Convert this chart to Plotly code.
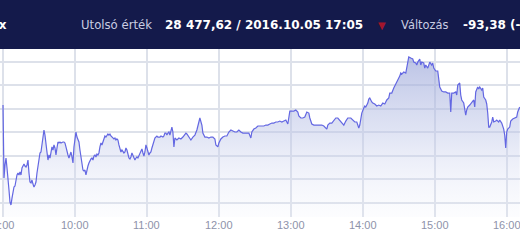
import plotly.graph_objects as go

DAY = "2016-10-05"

times = [
    "09:00:00", "09:00:50", "09:01:40", "09:02:30", "09:03:20", "09:04:10",
    "09:05:00", "09:05:50", "09:06:40", "09:07:30", "09:08:20", "09:09:10",
    "09:10:00", "09:10:50", "09:11:40", "09:12:30", "09:13:20", "09:14:10",
    "09:15:00", "09:15:50", "09:16:40", "09:17:30", "09:18:20", "09:19:10",
    "09:20:00", "09:20:50", "09:21:40", "09:22:30", "09:23:20", "09:24:10",
    "09:25:00", "09:25:50", "09:26:40", "09:27:30", "09:28:20", "09:29:10",
    "09:30:00", "09:30:50", "09:31:40", "09:32:30", "09:33:20", "09:34:10",
    "09:35:00", "09:35:50", "09:36:40", "09:37:30", "09:38:20", "09:39:10",
    "09:40:00", "09:40:50", "09:41:40", "09:42:30", "09:43:20", "09:44:10",
    "09:45:00", "09:45:50", "09:46:40", "09:47:30", "09:48:20", "09:49:10",
    "09:50:00", "09:50:50", "09:51:40", "09:52:30", "09:53:20", "09:54:10",
    "09:55:00", "09:55:50", "09:56:40", "09:57:30", "09:58:20", "09:59:10",
    "10:00:00", "10:00:50", "10:01:40", "10:02:30", "10:03:20", "10:04:10",
    "10:05:00", "10:05:50", "10:06:40", "10:07:30", "10:08:20", "10:09:10",
    "10:10:00", "10:10:50", "10:11:40", "10:12:30", "10:13:20", "10:14:10",
    "10:15:00", "10:15:50", "10:16:40", "10:17:30", "10:18:20", "10:19:10",
    "10:20:00", "10:20:50", "10:21:40", "10:22:30", "10:23:20", "10:24:10",
    "10:25:00", "10:25:50", "10:26:40", "10:27:30", "10:28:20", "10:29:10",
    "10:30:00", "10:30:50", "10:31:40", "10:32:30", "10:33:20", "10:34:10",
    "10:35:00", "10:35:50", "10:36:40", "10:37:30", "10:38:20", "10:39:10",
    "10:40:00", "10:40:50", "10:41:40", "10:42:30", "10:43:20", "10:44:10",
    "10:45:00", "10:45:50", "10:46:40", "10:47:30", "10:48:20", "10:49:10",
    "10:50:00", "10:50:50", "10:51:40", "10:52:30", "10:53:20", "10:54:10",
    "10:55:00", "10:55:50", "10:56:40", "10:57:30", "10:58:20", "10:59:10",
    "11:00:00", "11:00:50", "11:01:40", "11:02:30", "11:03:20", "11:04:10",
    "11:05:00", "11:05:50", "11:06:40", "11:07:30", "11:08:20", "11:09:10",
    "11:10:00", "11:10:50", "11:11:40", "11:12:30", "11:13:20", "11:14:10",
    "11:15:00", "11:15:50", "11:16:40", "11:17:30", "11:18:20", "11:19:10",
    "11:20:00", "11:20:50", "11:21:40", "11:22:30", "11:23:20",
    "11:25:00", "11:26:40", "11:28:20", "11:30:00", "11:31:40", "11:32:30",
    "11:33:20", "11:35:00", "11:36:40", "11:38:20", "11:40:00", "11:41:40",
    "11:43:20", "11:44:10", "11:45:50", "11:46:40", "11:48:20", "11:50:00",
    "11:51:40", "11:53:20", "11:55:00", "11:56:40", "11:57:30", "11:59:10",
    "12:00:00", "12:01:40", "12:03:20", "12:05:00", "12:06:40", "12:08:20",
    "12:10:00", "12:11:40", "12:13:20", "12:15:00", "12:16:40", "12:18:20",
    "12:20:00", "12:21:40", "12:23:20", "12:25:00", "12:26:40", "12:27:30",
    "12:29:10", "12:30:50", "12:32:30", "12:34:10", "12:35:50", "12:37:30",
    "12:39:10", "12:40:50", "12:42:30", "12:44:10", "12:45:50", "12:47:30",
    "12:49:10", "12:50:50", "12:52:30", "12:54:10", "12:55:50", "12:57:30",
    "12:58:20", "12:59:10", "13:00:50", "13:02:30", "13:04:10", "13:05:50",
    "13:06:40", "13:08:20", "13:10:00", "13:11:40", "13:13:20", "13:15:00",
    "13:15:50", "13:17:30", "13:19:10", "13:20:50", "13:22:30", "13:24:10",
    "13:25:50", "13:27:30", "13:29:10", "13:30:00", "13:30:50", "13:32:30",
    "13:34:10", "13:35:50", "13:37:30", "13:39:10", "13:40:50", "13:42:30",
    "13:44:10", "13:45:50", "13:47:30", "13:50:00", "13:51:40", "13:53:20",
    "13:55:00", "13:55:50", "13:56:40", "13:57:30", "13:59:10", "14:00:50",
    "14:01:40", "14:02:30", "14:04:10", "14:05:00", "14:05:50", "14:07:30",
    "14:08:20", "14:10:00", "14:11:40", "14:13:20", "14:15:00", "14:16:40",
    "14:18:20", "14:20:00", "14:21:40", "14:22:30", "14:24:10", "14:25:50",
    "14:27:30", "14:28:20", "14:29:10", "14:30:50", "14:31:40", "14:32:30",
    "14:34:10", "14:35:50", "14:36:40", "14:37:30", "14:38:20", "14:40:00",
    "14:41:40", "14:42:30", "14:44:10", "14:45:00", "14:45:50", "14:47:30",
    "14:48:20", "14:49:10", "14:50:50", "14:51:40", "14:52:30", "14:54:10",
    "14:55:00", "14:55:50", "14:57:30", "14:58:20", "14:59:10", "15:00:50",
    "15:02:30", "15:03:20", "15:04:10", "15:05:50", "15:07:30", "15:09:10",
    "15:10:50", "15:12:30", "15:13:20", "15:14:10", "15:15:50", "15:17:30",
    "15:18:20", "15:19:10", "15:20:50", "15:21:40", "15:22:30", "15:24:10",
    "15:25:00", "15:25:50", "15:26:40", "15:27:30", "15:29:10", "15:30:50",
    "15:32:30", "15:33:20", "15:34:10", "15:35:50", "15:36:40", "15:37:30",
    "15:39:10", "15:40:00", "15:40:50", "15:42:30", "15:43:20", "15:44:10",
    "15:45:00", "15:45:50", "15:47:30", "15:48:20", "15:49:10", "15:50:50",
    "15:51:40", "15:53:20", "15:54:10", "15:55:50", "15:56:40", "15:57:30",
    "15:58:20", "15:59:10", "16:00:00", "16:00:50", "16:02:30", "16:03:20",
    "16:05:00", "16:06:40", "16:08:20", "16:09:10", "16:10:50",
]

values = [
    28483.2, 28421.2, 28432.3, 28438.2, 28429.7, 28422.1,
    28411.0, 28400.8, 28398.3, 28404.2, 28411.0, 28413.6,
    28414.4, 28419.5, 28423.8, 28425.5, 28423.8, 28426.3,
    28423.8, 28429.7, 28431.4, 28433.1, 28431.4, 28430.6,
    28432.3, 28436.5, 28425.5, 28417.8, 28417.0, 28419.5,
    28416.1, 28413.6, 28415.3, 28417.8, 28425.5, 28432.3,
    28440.8, 28442.5, 28443.3, 28449.3, 28459.4, 28462.0,
    28457.7, 28447.6, 28443.3, 28436.5, 28440.8, 28438.2,
    28445.0, 28447.6, 28445.0, 28449.3, 28446.7, 28440.8,
    28446.7, 28451.8, 28451.0, 28451.8, 28451.0, 28451.8,
    28451.8, 28451.8, 28451.0, 28447.6, 28443.3, 28440.8,
    28438.2, 28440.8, 28443.3, 28439.1, 28434.0, 28447.6,
    28457.7, 28460.3, 28456.0, 28454.4, 28451.8, 28445.0,
    28438.2, 28430.6, 28428.0, 28427.2, 28428.0, 28423.8,
    28429.7, 28431.4, 28434.0, 28436.5, 28437.4, 28438.2,
    28436.5, 28439.9, 28440.8, 28439.1, 28441.6, 28440.8,
    28442.5, 28447.6, 28451.0, 28449.3, 28451.8, 28455.2,
    28456.9, 28456.0, 28457.7, 28458.6, 28457.7, 28458.6,
    28456.9, 28456.0, 28455.2, 28454.4, 28455.2, 28453.5,
    28454.4, 28453.5, 28449.3, 28445.0, 28443.3, 28445.0,
    28443.3, 28442.5, 28443.3, 28446.7, 28445.0, 28440.8,
    28438.2, 28437.4, 28439.1, 28442.5, 28439.9, 28437.4,
    28436.5, 28438.2, 28439.1, 28438.2, 28439.9, 28442.5,
    28443.3, 28445.9, 28442.5, 28439.9, 28443.3, 28449.3,
    28446.7, 28443.3, 28440.8, 28442.5, 28443.3, 28446.7,
    28449.3, 28453.5, 28455.2, 28456.0, 28456.9, 28456.0,
    28456.0, 28456.0, 28456.9, 28456.0, 28456.0, 28456.9,
    28459.4, 28459.4, 28457.7, 28459.4, 28460.3, 28457.7,
    28462.0, 28464.5, 28460.3, 28447.6, 28455.2,
    28453.5, 28455.2, 28454.4, 28456.0, 28457.7, 28459.4,
    28458.6, 28456.0, 28453.5, 28456.0, 28457.7, 28462.0,
    28468.8, 28472.2, 28466.2, 28459.4, 28456.0, 28456.0,
    28455.2, 28456.0, 28456.0, 28454.4, 28449.3, 28447.6,
    28451.0, 28454.4, 28456.0, 28456.9, 28456.9, 28460.3,
    28462.0, 28461.1, 28460.3, 28460.3, 28462.0, 28460.3,
    28459.4, 28459.4, 28459.4, 28459.4, 28455.2, 28460.3,
    28462.8, 28463.7, 28465.4, 28465.4, 28465.4, 28465.4,
    28466.2, 28466.2, 28467.1, 28467.9, 28467.9, 28468.8,
    28468.8, 28469.6, 28468.8, 28469.6, 28470.5, 28467.1,
    28474.7, 28478.1, 28478.1, 28478.1, 28479.0, 28477.3,
    28473.9, 28472.2, 28472.2, 28473.0, 28477.3, 28476.4,
    28472.2, 28467.1, 28466.2, 28466.2, 28466.2, 28466.2,
    28466.2, 28465.4, 28463.7, 28462.8, 28466.2, 28467.9,
    28467.9, 28469.6, 28472.2, 28472.2, 28470.5, 28467.9,
    28466.2, 28469.6, 28472.2, 28472.2, 28470.5, 28468.8,
    28468.8, 28466.2, 28463.7, 28466.2, 28476.4, 28480.7,
    28482.4, 28481.5, 28484.9, 28488.3, 28489.2, 28485.8,
    28484.9, 28484.1, 28482.4, 28483.2, 28482.4, 28484.9,
    28484.1, 28487.5, 28489.2, 28493.4, 28493.4, 28497.7,
    28501.9, 28502.8, 28504.5, 28507.8, 28510.4, 28509.5,
    28511.2, 28510.4, 28514.6, 28521.4, 28524.0, 28523.1,
    28522.3, 28519.7, 28518.9, 28517.2, 28519.7, 28522.3,
    28517.2, 28519.7, 28518.9, 28514.6, 28517.2, 28514.6,
    28517.2, 28519.7, 28517.2, 28518.9, 28514.6, 28512.1,
    28512.1, 28507.0, 28498.5, 28495.1, 28494.3, 28494.3,
    28493.4, 28493.4, 28477.3, 28493.4, 28493.4, 28494.3,
    28491.7, 28500.2, 28501.9, 28491.7, 28487.5, 28484.9,
    28480.7, 28474.7, 28479.0, 28481.5, 28483.2, 28485.8,
    28487.5, 28481.5, 28494.3, 28498.5, 28496.8, 28498.5,
    28496.0, 28497.7, 28490.0, 28487.5, 28484.1, 28476.4,
    28464.5, 28464.5, 28468.8, 28473.0, 28468.8, 28469.6,
    28470.5, 28468.8, 28470.5, 28467.9, 28465.4, 28462.8,
    28457.7, 28446.7, 28460.3, 28462.8, 28464.5, 28469.6,
    28471.3, 28472.2, 28473.0, 28477.3, 28481.5,
]

hour_ticks = ["9:00", "10:00", "11:00", "12:00", "13:00", "14:00", "15:00", "16:00"]
hour_pos = ["09:00", "10:00", "11:00", "12:00", "13:00", "14:00", "15:00", "16:00"]

header_label_last = "Utolsó érték"
header_value_last = "28 477,62 / 2016.10.05 17:05"
header_label_change = "Változás"
header_value_change = "-93,38 (-0,33%)"
index_name = "Bux"

W, H = 520, 245
M_T, M_B = 49, 28
PLOT_H = H - M_T - M_B

x = [f"{DAY} {t}" for t in times]

fig = go.Figure()
fig.add_trace(go.Scatter(
    x=x, y=values, mode="lines",
    line=dict(color="#6367e2", width=1.2),
    fill="tozeroy",
    fillgradient=dict(
        type="vertical", start=28388, stop=28525,
        colorscale=[[0, "rgba(235,238,250,0.15)"], [0.5, "rgba(190,198,232,0.45)"], [1, "rgba(150,162,215,0.65)"]],
    ),
    hoverinfo="skip",
))


def py(p):
    return (H - M_B - p) / PLOT_H


fig.add_shape(type="rect", xref="paper", yref="paper", x0=0, x1=1, y0=1, y1=py(-2),
              fillcolor="#141a4b", line=dict(width=0), layer="above")

ann = []
ann.append(dict(text=f"<b>{index_name}</b>", x=9 / W, y=py(25), xanchor="right"))
ann.append(dict(text=header_label_last, x=79 / W, y=py(25), xanchor="left",
                font=dict(color="#c9cde2", size=11.7, family="DejaVu Sans")))
ann.append(dict(text=f"<b>{header_value_last}</b>", x=163 / W, y=py(25), xanchor="left"))
ann.append(dict(text="▼", x=382 / W, y=py(25), xanchor="center",
                font=dict(color="#a3162c", size=10, family="DejaVu Sans")))
ann.append(dict(text=header_label_change, x=399 / W, y=py(25), xanchor="left",
                font=dict(color="#c9cde2", size=11.4, family="DejaVu Sans")))
ann.append(dict(text=f"<b>{header_value_change}</b>", x=461 / W, y=py(25), xanchor="left"))
for a in ann:
    a.setdefault("font", dict(color="#ffffff", size=12, family="DejaVu Sans"))
    a.update(xref="paper", yref="paper", yanchor="middle", showarrow=False)

for lab, pos in zip(hour_ticks, hour_pos):
    ann.append(dict(text=lab, x=f"{DAY} {pos}", xref="x", y=py(225), yref="paper",
                    xanchor="center", yanchor="middle", showarrow=False,
                    font=dict(family="Liberation Sans", size=11, color="#8e93aa")))

fig.update_layout(
    width=W, height=H,
    margin=dict(l=0, r=0, t=M_T, b=M_B, pad=0),
    paper_bgcolor="white", plot_bgcolor="white",
    showlegend=False,
    annotations=ann,
    xaxis=dict(
        range=[f"{DAY} 08:57:30", f"{DAY} 16:11:05"],
        tickvals=[f"{DAY} {t}" for t in hour_pos],
        showticklabels=False,
        showgrid=True, gridcolor="#dde1ea", gridwidth=1.5,
        zeroline=False, showline=False, ticks="",
    ),
    yaxis=dict(
        range=[28388.1, 28530.8],
        tick0=28400, dtick=20,
        showgrid=True, gridcolor="#dde1ea", gridwidth=1.5,
        zeroline=False, showline=False, showticklabels=False, ticks="",
    ),
)

fig.write_html("out.html")
